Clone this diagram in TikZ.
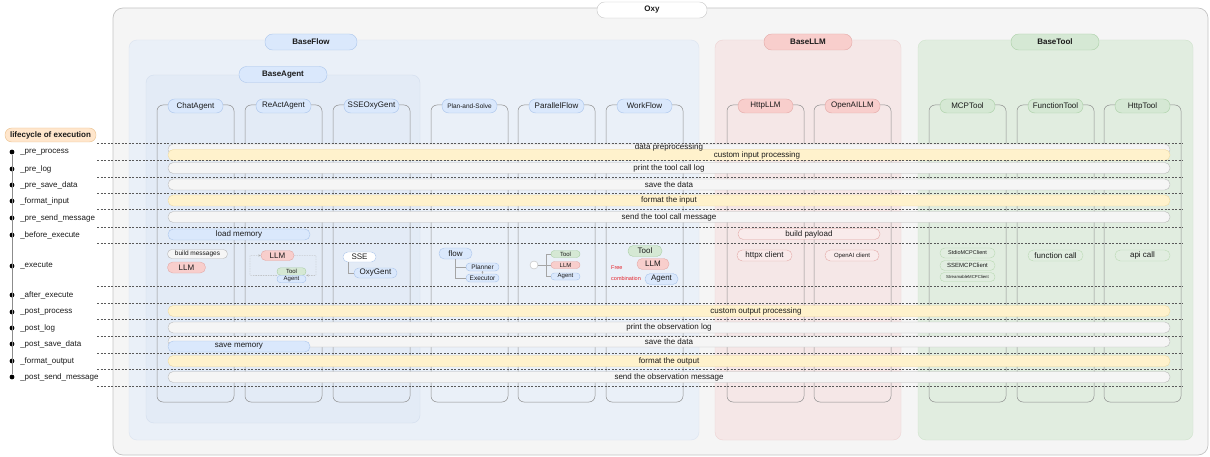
\documentclass[tikz,border=0pt]{standalone}
\usepackage{fontspec}
\setmainfont{Liberation Sans}
\usetikzlibrary{arrows.meta}

\definecolor{oxyfill}{HTML}{F5F5F5}
\definecolor{oxyline}{HTML}{C4C4C4}
\definecolor{flowfill}{HTML}{EAF0F8}
\definecolor{flowline}{HTML}{DCE4F0}
\definecolor{agentfill}{HTML}{E3EBF6}
\definecolor{agentline}{HTML}{D3DEEE}
\definecolor{llmfill}{HTML}{F5E7E7}
\definecolor{llmline}{HTML}{EDD3D3}
\definecolor{toolfill}{HTML}{E1EDE0}
\definecolor{toolline}{HTML}{CFE3CC}
\definecolor{bluefill}{HTML}{DAE8FC}
\definecolor{blueline}{HTML}{A9C4EB}
\definecolor{redfill}{HTML}{F8CECC}
\definecolor{redline}{HTML}{E3A8A6}
\definecolor{greenfill}{HTML}{D5E8D4}
\definecolor{greenline}{HTML}{A9CFA5}
\definecolor{greyfill}{HTML}{F5F5F5}
\definecolor{greyline}{HTML}{B8B8B8}
\definecolor{yellowfill}{HTML}{FFF2CC}
\definecolor{yellowline}{HTML}{EED9A0}
\definecolor{orangefill}{HTML}{FFE6CC}
\definecolor{orangeline}{HTML}{E8BE8A}
\definecolor{pinkfill}{HTML}{F9EBEB}
\definecolor{paleline}{HTML}{B9D9B2}
\definecolor{colline}{HTML}{8E8E8E}
\definecolor{txt}{HTML}{1A1A1A}
\definecolor{freered}{HTML}{E5222A}

\newcommand{\fsz}[1]{\fontsize{#1}{#1}\selectfont}

\tikzset{
  ht/.style={minimum height=#1pt, rounded corners=#1*0.48pt},
  pill/.style={draw, inner sep=0pt, ht=11, text=txt, font=\fsz{8}},
  bluepill/.style={pill, fill=bluefill, draw=blueline},
  redpill/.style={pill, fill=redfill, draw=redline},
  greenpill/.style={pill, fill=greenfill, draw=greenline},
  greypill/.style={pill, fill=greyfill, draw=greyline},
  yellowpill/.style={pill, fill=yellowfill, draw=yellowline},
  pinkpill/.style={pill, fill=pinkfill, draw=redline},
  palepill/.style={pill, fill=toolfill, draw=paleline},
  head/.style={ht=16, minimum width=88pt, font=\bfseries\fsz{8}},
  classpill/.style={ht=14, minimum width=55pt},
  band/.style={minimum width=1002pt, ht=11},
  bandtext/.style={text=txt, font=\fsz{8}, inner sep=0pt},
  colbox/.style={draw=colline, line width=0.5pt, rounded corners=6pt},
  stage/.style={inner sep=0pt, text=txt, font=\fsz{8}},
  dot/.style={circle, fill=black, inner sep=0pt, minimum size=4.8pt},
  rowsep/.style={draw=black!65, dash pattern=on 2pt off 1.5pt, line width=0.45pt},
  tree/.style={draw=colline!80, line width=0.5pt},
  loopline/.style={draw=colline!70, dash pattern=on 1.5pt off 1pt, line width=0.45pt, -{Stealth[length=2.5pt,width=2.2pt]}},
  freetxt/.style={anchor=west, inner sep=0pt, text=freered, font=\fsz{5.5}}
}

\begin{document}
\begin{tikzpicture}[x=1pt, y=-1pt]
  \useasboundingbox (0,0) rectangle (1210,457);

  \draw[fill=oxyfill, draw=oxyline, line width=0.7pt, rounded corners=10pt] (113,8) rectangle (1208,455);
  \draw[fill=flowfill, draw=flowline, rounded corners=8pt] (129,40) rectangle (699,440);
  \draw[fill=agentfill, draw=agentline, rounded corners=8pt] (146,75) rectangle (420,423);
  \draw[fill=llmfill, draw=llmline, rounded corners=8pt] (715,40) rectangle (901,440);
  \draw[fill=toolfill, draw=toolline, rounded corners=8pt] (918,40) rectangle (1193,440);

  \draw[colbox] (157,105) rectangle (234,402);
  \draw[colbox] (245,105) rectangle (322,402);
  \draw[colbox] (333,105) rectangle (410,402);
  \draw[colbox] (431,105) rectangle (508,402);
  \draw[colbox] (518,105) rectangle (595,402);
  \draw[colbox] (606,105) rectangle (683,402);
  \draw[colbox] (727,105) rectangle (804,402);
  \draw[colbox] (814,105) rectangle (891,402);
  \draw[colbox] (929,105) rectangle (1006,402);
  \draw[colbox] (1017,105) rectangle (1094,402);
  \draw[colbox] (1104,105) rectangle (1181,402);

  \node[pill, fill=white, draw=oxyline, head, minimum width=110pt] (oxy) at (652,10) {Oxy};
  \node[bluepill, head, minimum width=92pt] (baseflow) at (311,42) {BaseFlow};
  \node[bluepill, head] (baseagent) at (283,74.5) {BaseAgent};
  \node[redpill, head] (basellm) at (808,42) {BaseLLM};
  \node[greenpill, head] (basetool) at (1055,42) {BaseTool};

  \node[bluepill, classpill] (chatagent) at (195.5,106) {ChatAgent};
  \node[bluepill, classpill] (reactagent) at (283.5,106) {ReActAgent};
  \node[bluepill, classpill] (sseoxygent) at (371.5,106) {SSEOxyGent};
  \node[bluepill, classpill, font=\fsz{6.5}] (plansolve) at (469.5,106) {Plan-and-Solve};
  \node[bluepill, classpill] (parallelflow) at (556.5,106) {ParallelFlow};
  \node[bluepill, classpill] (workflow) at (644.5,106) {WorkFlow};
  \node[redpill, classpill] (httpllm) at (765.5,106) {HttpLLM};
  \node[redpill, classpill] (openaillm) at (852.5,106) {OpenAILLM};
  \node[greenpill, classpill] (mcptool) at (967.5,106) {MCPTool};
  \node[greenpill, classpill] (functiontool) at (1055.5,106) {FunctionTool};
  \node[greenpill, classpill] (httptool) at (1142.5,106) {HttpTool};

  \node[pill, fill=orangefill, draw=orangeline, ht=14, minimum width=91pt, font=\bfseries\fsz{8}] (lifecycle) at (50.5,135) {lifecycle of execution};
  \node[dot, label={[stage, label distance=5.5pt]right:\_pre\_process}] (preprocess) at (12,152) {};
  \node[dot, label={[stage, label distance=5.5pt]right:\_pre\_log}] (prelog) at (12,169) {};
  \node[dot, label={[stage, label distance=5.5pt]right:\_pre\_save\_data}] (presave) at (12,185) {};
  \node[dot, label={[stage, label distance=5.5pt]right:\_format\_input}] (formatin) at (12,201) {};
  \node[dot, label={[stage, label distance=5.5pt]right:\_pre\_send\_message}] (presend) at (12,218) {};
  \node[dot, label={[stage, label distance=5.5pt]right:\_before\_execute}] (beforeexec) at (12,235) {};
  \node[dot, label={[stage, label distance=5.5pt]right:\_execute}] (execute) at (12,266) {};
  \node[dot, label={[stage, label distance=5.5pt]right:\_after\_execute}] (afterexec) at (12,295) {};
  \node[dot, label={[stage, label distance=5.5pt]right:\_post\_process}] (postprocess) at (12,312) {};
  \node[dot, label={[stage, label distance=5.5pt]right:\_post\_log}] (postlog) at (12,328) {};
  \node[dot, label={[stage, label distance=5.5pt]right:\_post\_save\_data}] (postsave) at (12,344) {};
  \node[dot, label={[stage, label distance=5.5pt]right:\_format\_output}] (formatout) at (12,361) {};
  \node[dot, label={[stage, label distance=5.5pt]right:\_post\_send\_message}] (postsend) at (12,377) {};
  \draw[draw=black!45, line width=0.6pt] (preprocess) -- (postsend);

  \node[greypill, band] (preproc) at (669,149.5) {};
  \node[yellowpill, band] (custin) at (669,155) {};
  \node[bandtext] (preproctext) at (669,147.5) {data preprocessing};
  \node[bandtext] (custintext) at (757,155) {custom input processing};
  \node[greypill, band] (toollog) at (669,168) {print the tool call log};
  \node[greypill, band] (savedata) at (669,184.5) {save the data};
  \node[yellowpill, band] (fmtinput) at (669,200.5) {format the input};
  \node[greypill, band] (sendtool) at (669,217) {send the tool call message};
  \node[bluepill, minimum width=142pt] (loadmem) at (239,234.5) {load memory};
  \node[pinkpill, minimum width=142pt] (payload) at (809,234) {build payload};

  \node[yellowpill, band] (custout) at (669,311) {};
  \node[bandtext] (custouttext) at (756,311) {custom output processing};
  \node[greypill, band] (obslog) at (669,327.5) {print the observation log};
  \node[greypill, band] (savedata2) at (669,341.5) {save the data};
  \node[bluepill, minimum width=142pt] (savemem) at (239,346.5) {save memory};
  \node[yellowpill, band] (fmtoutput) at (669,361) {format the output};
  \node[greypill, band] (sendobs) at (669,377) {send the observation message};

  \node[greypill, ht=9, minimum width=60pt, font=\fsz{6.5}] (buildmsg) at (197.5,254) {build messages};
  \node[redpill, minimum width=38pt] (chatllm) at (186.5,267.5) {LLM};

  \node[redpill, ht=10, minimum width=33pt] (reactllm) at (277.5,255.5) {LLM};
  \node[greenpill, ht=7.5, minimum width=29pt, font=\fsz{6}] (reacttool) at (291.5,271.5) {Tool};
  \node[bluepill, ht=7.5, minimum width=29pt, font=\fsz{6}] (reactagt) at (291.5,279) {Agent};
  \coordinate (loopr) at (316,275.25);
  \coordinate (loopl) at (250,275.25);
  \draw[loopline] (reactllm.east) -| (loopr) -- (reacttool.south east);
  \draw[loopline] (reacttool.south west) -- (loopl) |- (reactllm.west);

  \node[pill, fill=white, draw=blueline, ht=10, minimum width=33pt] (sse) at (359.5,257) {SSE};
  \node[bluepill, ht=10, minimum width=43pt] (oxygent) at (375.5,273) {OxyGent};
  \draw[tree] ([xshift=5pt]sse.south west) |- (oxygent.west);

  \node[bluepill, minimum width=33pt] (flow) at (455.5,253.5) {flow};
  \node[bluepill, ht=8, minimum width=33pt, font=\fsz{6.5}] (planner) at (482.5,267) {Planner};
  \node[bluepill, ht=8, minimum width=33pt, font=\fsz{6.5}] (executor) at (482.5,278) {Executor};
  \draw[tree] (flow.south) |- (planner.west);
  \draw[tree] (flow.south) |- (executor.west);
  \draw[tree, -{Stealth[length=1.8pt,width=1.8pt]}] (planner.south) -- (executor.north);

  \node[circle, draw=colline!60, fill=white, minimum size=8pt, inner sep=0pt] (fork) at (534,265) {};
  \coordinate (forkj) at (546,265);
  \node[greenpill, ht=7, minimum width=29pt, font=\fsz{6}] (ptool) at (565.5,254) {Tool};
  \node[redpill, ht=7, minimum width=29pt, font=\fsz{6}] (pllm) at (565.5,265) {LLM};
  \node[bluepill, ht=7, minimum width=29pt, font=\fsz{6}] (pagent) at (565.5,276.5) {Agent};
  \draw[tree] (fork) -- (pllm.west);
  \draw[tree] (forkj) |- (ptool.west);
  \draw[tree] (forkj) |- (pagent.west);

  \node[greenpill, minimum width=34pt] (wtool) at (645,251) {Tool};
  \node[redpill, minimum width=32pt] (wllm) at (653,264) {LLM};
  \node[bluepill, minimum width=33pt] (wagent) at (661.5,279) {Agent};
  \node[freetxt] (free) at (611,268) {Free};
  \node[freetxt] (combination) at (611,278.5) {combination};

  \node[pinkpill, minimum width=55pt] (httpx) at (764.5,255.5) {httpx client};
  \node[pinkpill, minimum width=54pt, font=\fsz{6}] (openaiclient) at (852,255.5) {OpenAI client};
  \node[palepill, ht=10, minimum width=55pt, font=\fsz{5.5}] (stdio) at (967.5,253) {StdioMCPClient};
  \node[palepill, ht=10, minimum width=55pt, font=\fsz{6}] (ssemcp) at (967.5,265.5) {SSEMCPClient};
  \node[palepill, ht=9, minimum width=55pt, font=\fsz{4.3}] (streamable) at (967.5,277) {StreamableMCPClient};
  \node[palepill, minimum width=55pt] (funccall) at (1055.5,255.5) {function call};
  \node[palepill, minimum width=55pt] (apicall) at (1142.5,255.5) {api call};

  \draw[rowsep] (97,143) -- (1183,143);
  \draw[rowsep] (97,160) -- (1183,160);
  \draw[rowsep] (97,177) -- (1183,177);
  \draw[rowsep] (97,193) -- (1183,193);
  \draw[rowsep] (97,209) -- (1183,209);
  \draw[rowsep] (97,227) -- (1183,227);
  \draw[rowsep] (97,243) -- (1183,243);
  \draw[rowsep] (97,286) -- (1183,286);
  \draw[rowsep] (97,303) -- (1183,303);
  \draw[rowsep] (97,319) -- (1183,319);
  \draw[rowsep] (97,336) -- (1183,336);
  \draw[rowsep] (97,353) -- (1183,353);
  \draw[rowsep] (97,369) -- (1183,369);
  \draw[rowsep] (97,386) -- (1183,386);
\end{tikzpicture}
\end{document}
